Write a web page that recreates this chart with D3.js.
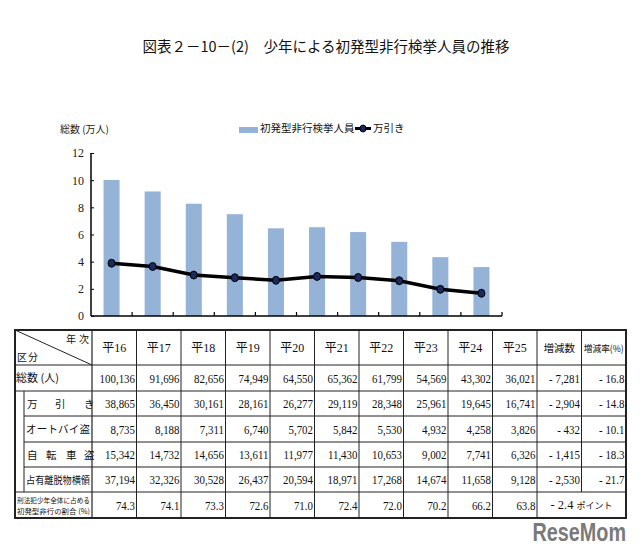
<!DOCTYPE html>
<html><head><meta charset="utf-8">
<script src="https://cdn.jsdelivr.net/npm/d3@7"></script>
<style>body{margin:0;background:#fff}svg{display:block}</style>
</head><body>
<svg id="c" width="640" height="550"></svg>
<script>
const years = ["平16","平17","平18","平19","平20","平21","平22","平23","平24","平25"];
const total = [100136, 91696, 82656, 74949, 64550, 65362, 61799, 54569, 43302, 36021];
const shoplifting = [38865, 36450, 30161, 28161, 26277, 29119, 28348, 25961, 19645, 16741];
const motorcycle = [8735, 8188, 7311, 6740, 5702, 5842, 5530, 4932, 4258, 3826];
const bicycle = [15342, 14732, 14656, 13611, 11977, 11430, 10653, 9002, 7741, 6326];
const embezzlement = [37194, 32326, 30528, 26437, 20594, 18971, 17268, 14674, 11658, 9128];
const ratio = [74.3, 74.1, 73.3, 72.6, 71.0, 72.4, 72.0, 70.2, 66.2, 63.8];
const changeCount = ["- 7,281", "- 2,904", "- 432", "- 1,415", "- 2,530"];
const changeRate = ["- 16.8", "- 14.8", "- 10.1", "- 18.3", "- 21.7"];
const ratioChange = "- 2.4";
const ratioUnit = "ポイント";
const yTicks = [0, 2, 4, 6, 8, 10, 12];

const svg = d3.select("#c");
const JP = "'Noto Sans CJK JP', sans-serif";
const SERIF = "'Liberation Serif', 'Noto Sans CJK JP', serif";

// Title
svg.append("text").attr("x", 326).attr("y", 52).attr("text-anchor", "middle")
  .attr("font-family", JP).attr("font-size", 14.5).attr("fill", "#111")
  .text("図表２－10－(2)　少年による初発型非行検挙人員の推移");

// Chart scales
const x = d3.scaleBand().domain(years).range([91, 502]).paddingInner(0.61).paddingOuter(0.305);
const y = d3.scaleLinear().domain([0, 12]).range([316, 153]);
const step = x.step();

// Bars
svg.append("g").selectAll("rect").data(years).join("rect")
  .attr("x", d => x(d)).attr("width", x.bandwidth())
  .attr("y", (d, i) => y(total[i] / 10000))
  .attr("height", (d, i) => y(0) - y(total[i] / 10000))
  .attr("fill", "#95b3d7");

// Y axis
const yAxis = d3.axisRight(y).tickValues(yTicks).tickSize(3).tickFormat(d3.format("d"));
const yg = svg.append("g").attr("transform", "translate(91,0)").call(yAxis);
yg.select(".domain").attr("stroke", "#000").attr("stroke-width", 1.5).attr("d", "M0,153V316");
yg.selectAll(".tick text").attr("x", -7).attr("text-anchor", "end")
  .attr("font-family", SERIF).attr("font-size", 12).attr("fill", "#222");
yg.selectAll(".tick line").attr("stroke", "#000");

// X axis
const xb = svg.append("g");
xb.append("line").attr("x1", 91).attr("x2", 502).attr("y1", 316).attr("y2", 316)
  .attr("stroke", "#000").attr("stroke-width", 1.5);
xb.selectAll("line.t").data(years).join("line").attr("class", "t")
  .attr("x1", d => x(d) + x.bandwidth() / 2 + step / 2)
  .attr("x2", d => x(d) + x.bandwidth() / 2 + step / 2)
  .attr("y1", 316).attr("y2", 312).attr("stroke", "#000").attr("stroke-width", 1.2);

// Line
const line = d3.line().x((d, i) => x(years[i]) + x.bandwidth() / 2).y(d => y(d / 10000));
svg.append("path").datum(shoplifting).attr("d", line)
  .attr("fill", "none").attr("stroke", "#000").attr("stroke-width", 3.5);
svg.append("g").selectAll("ellipse").data(shoplifting).join("ellipse")
  .attr("cx", (d, i) => x(years[i]) + x.bandwidth() / 2)
  .attr("cy", d => y(d / 10000)).attr("rx", 3.5).attr("ry", 4)
  .attr("fill", "#1a2a5e").attr("stroke", "#000").attr("stroke-width", 1);

// Y label
svg.append("text").attr("x", 60).attr("y", 133).attr("font-family", JP)
  .attr("font-size", 10).attr("fill", "#222").text("総数 (万人)");

// Legend
svg.append("rect").attr("x", 239).attr("y", 127).attr("width", 19).attr("height", 6).attr("fill", "#95b3d7");
svg.append("text").attr("x", 260).attr("y", 132).attr("font-family", JP).attr("font-size", 10.5)
  .attr("fill", "#111").text("初発型非行検挙人員");
svg.append("line").attr("x1", 355).attr("x2", 371).attr("y1", 128.5).attr("y2", 128.5)
  .attr("stroke", "#000").attr("stroke-width", 3);
svg.append("ellipse").attr("cx", 363).attr("cy", 128.5).attr("rx", 3).attr("ry", 3.5)
  .attr("fill", "#1a2a5e").attr("stroke", "#000");
svg.append("text").attr("x", 373).attr("y", 132).attr("font-family", JP).attr("font-size", 10.5)
  .attr("fill", "#111").text("万引き");

// Table
const cols = [...years, "増減数", "増減率"];
const tx = d3.scaleBand().domain(cols).range([92, 626]);
const rowEdges = [330, 365, 391, 416, 442, 467, 492, 518];
const T = svg.append("g");
const L = (x1, y1, x2, y2, w) => T.append("line").attr("x1", x1).attr("y1", y1).attr("x2", x2).attr("y2", y2)
  .attr("stroke", "#222").attr("stroke-width", w || 1);

L(15, 365, 626, 365, 1.2);
L(15, 391, 626, 391);
[416, 442, 467].forEach(v => L(24, v, 626, v));
L(15, 492, 626, 492);
cols.forEach((c, i) => {
  if (i === 0) return;
  const xx = tx(c);
  if (c === "増減率") L(xx, 330, xx, 492); else L(xx, 330, xx, 518);
});
L(92, 330, 92, 518, 1.2);
L(24, 391, 24, 492);
L(15, 330, 92, 365);
T.append("rect").attr("x", 15).attr("y", 330).attr("width", 611).attr("height", 188)
  .attr("fill", "none").attr("stroke", "#222").attr("stroke-width", 2);

const txt = (x0, y0, s, opt = {}) => T.append("text").attr("x", x0).attr("y", y0)
  .attr("font-family", opt.f || SERIF).attr("font-size", opt.s || 12)
  .attr("text-anchor", opt.a || "start").attr("fill", "#111").text(s);

// header
txt(66, 343, "年", {f: JP, s: 10});
txt(79, 343, "次", {f: JP, s: 10});
txt(17, 361, "区", {f: JP, s: 10});
txt(28, 361, "分", {f: JP, s: 10});
years.forEach(c => txt(tx(c) + tx.bandwidth() / 2, 352, c, {a: "middle", s: 12}));
txt(tx("増減数") + tx.bandwidth() / 2, 352, "増減数", {a: "middle", f: JP, s: 10.5});
txt(tx("増減率") + tx.bandwidth() / 2, 352, "増減率(%)", {a: "middle", f: JP, s: 9.5})
  .attr("textLength", 40).attr("lengthAdjust", "spacingAndGlyphs");

// row labels
txt(16, 382, "総数 (人)", {f: JP, s: 11});
[["万", 27], ["引", 55], ["き", 84]].forEach(([c, xx]) => txt(xx, 408, c, {f: JP, s: 10.5}));
txt(26, 433, "オートバイ盗", {f: JP, s: 10.5, a: "start"}).attr("textLength", 64).attr("lengthAdjust", "spacing");
[["自", 27], ["転", 46], ["車", 66], ["盗", 84]].forEach(([c, xx]) => txt(xx, 459, c, {f: JP, s: 10.5}));
txt(26, 484, "占有離脱物横領", {f: JP, s: 10}).attr("textLength", 64).attr("lengthAdjust", "spacingAndGlyphs");
txt(17, 503, "刑法犯少年全体に占める", {f: JP, s: 7}).attr("textLength", 73).attr("lengthAdjust", "spacingAndGlyphs");
txt(17, 514, "初発型非行の割合 (%)", {f: JP, s: 7}).attr("textLength", 73).attr("lengthAdjust", "spacingAndGlyphs");

// numeric cells
const fmt = d3.format(",");
const rowsData = [total, shoplifting, motorcycle, bicycle, embezzlement];
const numCell = (col, rowIdx, s) => {
  const right = tx(col) + tx.bandwidth() - 1.5;
  const cy = (rowEdges[rowIdx] + rowEdges[rowIdx + 1]) / 2 + 4.5;
  T.append("text").attr("transform", `translate(${right},${cy}) scale(0.84,1)`)
    .attr("text-anchor", "end").attr("font-family", SERIF).attr("font-size", 13)
    .attr("fill", "#111").text(s);
};
rowsData.forEach((arr, r) => arr.forEach((v, i) => numCell(years[i], r + 1, fmt(v))));
ratio.forEach((v, i) => numCell(years[i], 6, d3.format(".1f")(v)));
rowsData.forEach((arr, r) => {
  numCell("増減数", r + 1, changeCount[r]);
  numCell("増減率", r + 1, changeRate[r]);
});
const rc = T.append("text").attr("x", (tx("増減数") + 626) / 2).attr("y", 509).attr("text-anchor", "middle")
  .attr("font-family", SERIF).attr("font-size", 12.5).attr("fill", "#111");
rc.append("tspan").text(ratioChange + " ");
rc.append("tspan").attr("font-family", JP).attr("font-size", 9).text(ratioUnit);

// watermark
svg.append("text").attr("transform", "translate(626,541) scale(0.9,1.15)").attr("text-anchor", "end")
  .attr("font-family", "'Liberation Sans', sans-serif").attr("font-weight", "bold")
  .attr("font-size", 22).attr("fill", "#7a7a7a").text("ReseMom");
</script>
</body></html>
